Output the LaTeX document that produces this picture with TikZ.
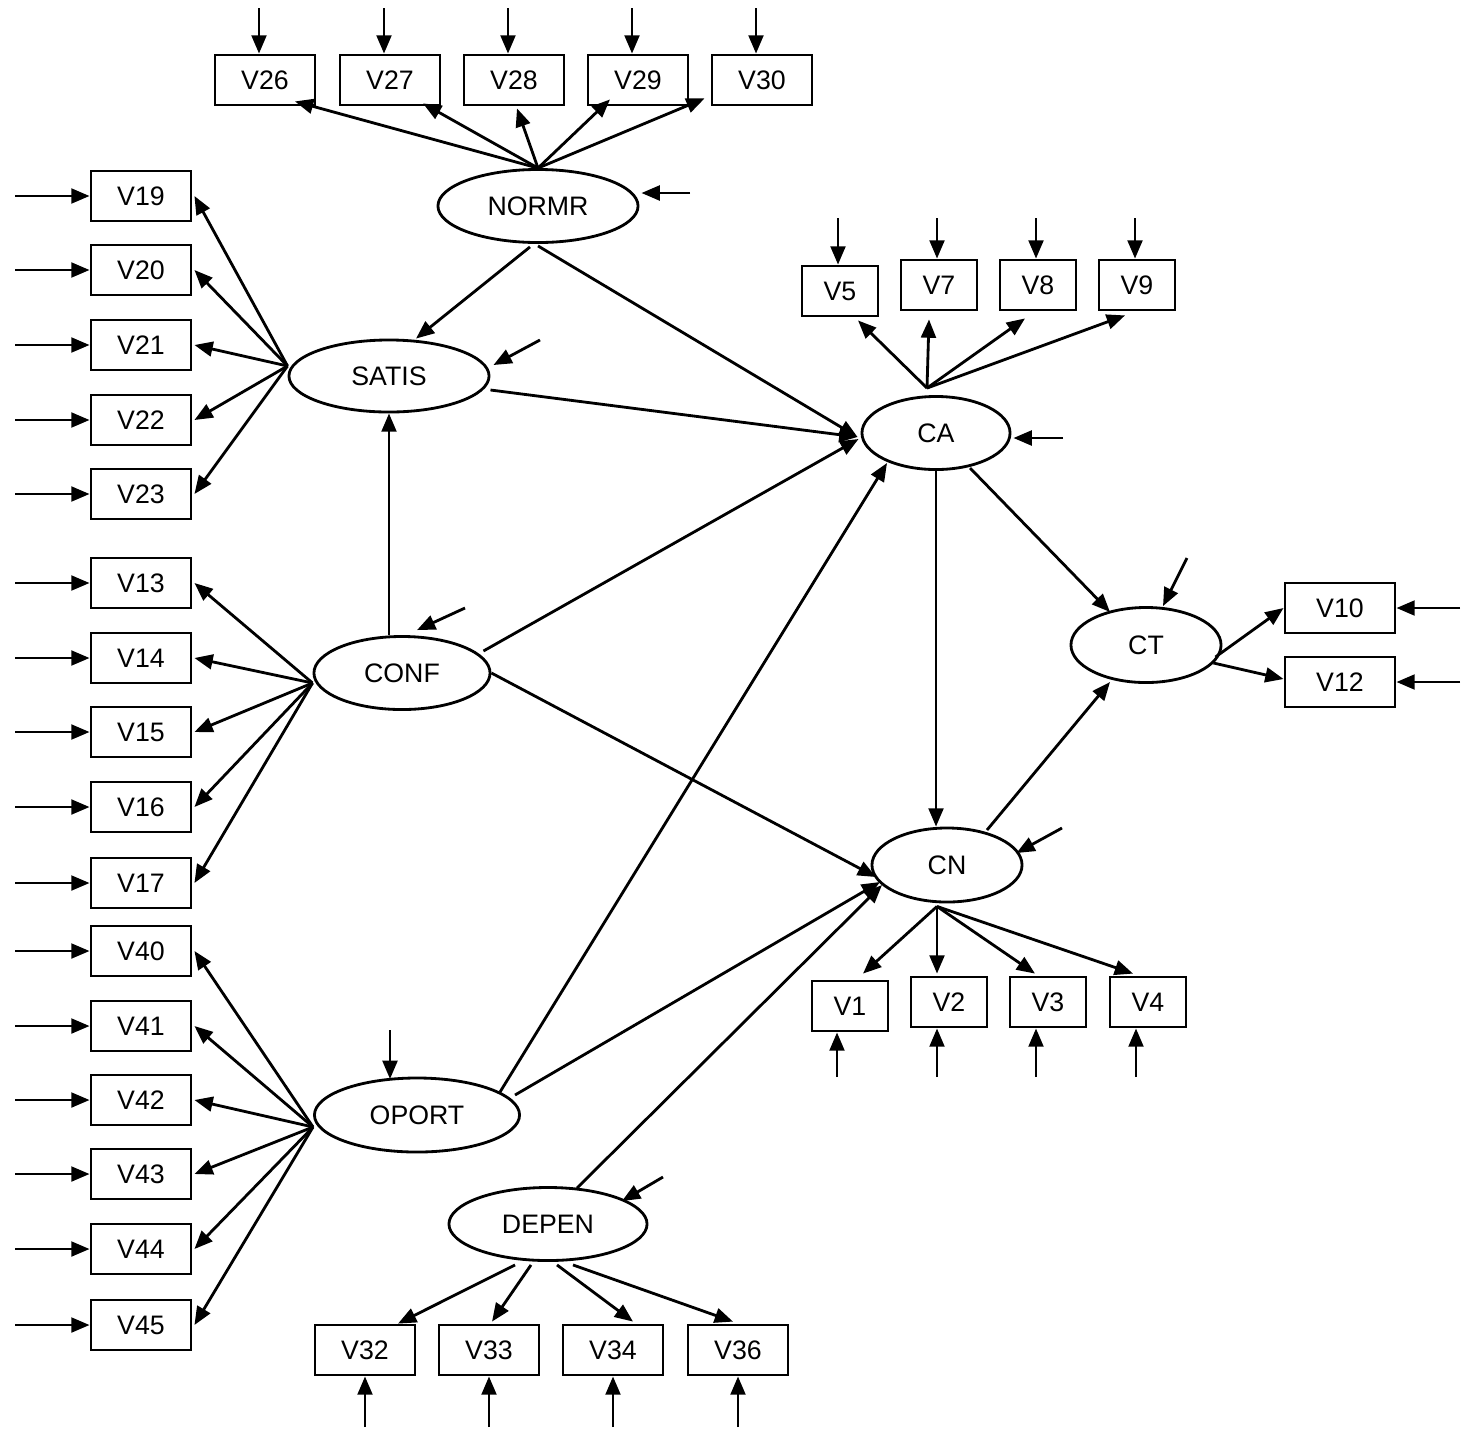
\documentclass[tikz,border=0pt]{standalone}
\usepackage{fontspec}
\setmainfont{Liberation Sans}
\usetikzlibrary{shapes.geometric,arrows.meta,calc}
\begin{document}
\begin{tikzpicture}[x=0.01cm,y=-0.01cm,
  lw/.style={line width=0.8pt},
  obs/.style={draw,lw,inner sep=0pt,minimum width=1cm,minimum height=0.5cm,font=\fontsize{7.6}{9}\selectfont},
  obsn/.style={obs,minimum width=0.76cm},
  obsw/.style={obs,minimum width=1.1cm},
  lat/.style={draw,lw,ellipse,inner sep=0pt,font=\fontsize{7.6}{9}\selectfont},
  arr/.style={lw,-{Triangle[length=5.2pt,width=4.2pt]}},
]
\useasboundingbox (0,0) rectangle (1470,1433);

% latent variables
\node[lat,minimum width=2cm,minimum height=0.73cm] (NORMR) at (538,206) {NORMR};
\node[lat,minimum width=2cm,minimum height=0.72cm] (SATIS) at (389,376) {SATIS};
\node[lat,minimum width=1.76cm,minimum height=0.73cm] (CONF) at (402,673) {CONF};
\node[lat,minimum width=2.05cm,minimum height=0.74cm] (OPORT) at (417,1115) {OPORT};
\node[lat,minimum width=1.98cm,minimum height=0.73cm] (DEPEN) at (548,1224) {DEPEN};
\node[lat,minimum width=1.48cm,minimum height=0.73cm] (CA) at (936,433) {CA};
\node[lat,minimum width=1.5cm,minimum height=0.74cm] (CN) at (947,865) {CN};
\node[lat,minimum width=1.5cm,minimum height=0.75cm] (CT) at (1146,645) {CT};

% top row (NORMR)
\foreach \n/\x in {26/265,27/390,28/514,29/638,30/762} {
  \node[obs] (V\n) at (\x,80) {V\n};
  \coordinate (e\n) at (\x-6,8);
  \draw[arr] (e\n) -- (e\n |- V\n.north);
}
\draw[arr] (NORMR.north) -- ($(V26.south)+(30,-5)$);
\draw[arr] (NORMR.north) -- ($(V27.south)+(33,-3)$);
\draw[arr] (NORMR.north) -- ($(V28.south)+(3,2)$);
\draw[arr] (NORMR.north) -- ($(V29.south)+(-28,-7)$);
\draw[arr] (NORMR.north) -- ($(V30.south west)+(-6,-8)$);

% left column
\foreach \n/\y in {19/196,20/270,21/345,22/420,23/494,13/583,14/658,15/732,16/807,17/883,40/951,41/1026,42/1100,43/1174,44/1249,45/1325} {
  \node[obs] (V\n) at (141,\y) {V\n};
  \coordinate (e\n) at (15,\y);
  \draw[arr] (e\n) -- (V\n.west);
}
\coordinate (oS) at ($(SATIS.west)+(0,-10)$);
\foreach \n in {19,20,21,22,23} \draw[arr] (oS) -- ($(V\n.east)+(2,0)$);
\coordinate (oC) at ($(CONF.west)+(0,10)$);
\foreach \n in {13,14,15,16,17} \draw[arr] (oC) -- ($(V\n.east)+(2,0)$);
\coordinate (oO) at ($(OPORT.west)+(0,12)$);
\foreach \n in {40,41,42,43,44,45} \draw[arr] (oO) -- ($(V\n.east)+(2,0)$);

% CA indicators
\node[obsn] (V5) at (840,291) {V5};
\node[obsn] (V7) at (939,285) {V7};
\node[obsn] (V8) at (1038,285) {V8};
\node[obsn] (V9) at (1137,285) {V9};
\foreach \n/\x in {5/838,7/937,8/1036,9/1135} {
  \coordinate (e\n) at (\x,218);
  \draw[arr] (e\n) -- (e\n |- V\n.north);
}
\coordinate (oA) at ($(CA.north)+(-9,-7)$);
\draw[arr] (oA) -- ($(V5.south)+(18,3)$);
\draw[arr] (oA) -- ($(V7.south)+(-10,8)$);
\draw[arr] (oA) -- ($(V8.south)+(-13,7)$);
\draw[arr] (oA) -- ($(V9.south)+(-12,4)$);

% CN indicators
\node[obsn] (V1) at (850,1006) {V1};
\node[obsn] (V2) at (949,1002) {V2};
\node[obsn] (V3) at (1048,1002) {V3};
\node[obsn] (V4) at (1148,1002) {V4};
\foreach \n/\x in {1/837,2/937,3/1036,4/1136} {
  \coordinate (e\n) at (\x,1077);
  \draw[arr] (e\n) -- (e\n |- V\n.south);
}
\coordinate (oN) at ($(CN.south)+(-10,3)$);
\draw[arr] (oN) -- ($(V1.north)+(13,-6)$);
\draw[arr] (oN) -- ($(V2.north)+(-12,-2)$);
\draw[arr] (oN) -- ($(V3.north)+(-13,-2)$);
\draw[arr] (oN) -- ($(V4.north)+(-15,-2)$);

% CT indicators
\node[obsw] (V10) at (1340,608) {V10};
\node[obsw] (V12) at (1340,682) {V12};
\coordinate (e10) at (1460,608);
\coordinate (e12) at (1460,682);
\draw[arr] (e10) -- (V10.east);
\draw[arr] (e12) -- (V12.east);
\draw[arr] ($(CT.east)+(-7,12)$) -- (V10.west);
\draw[arr] ($(CT.east)+(-9,18)$) -- ($(V12.west)+(0,-3)$);

% DEPEN indicators
\foreach \n/\x in {32/365,33/489,34/613,36/738} {
  \node[obs] (V\n) at (\x,1350) {V\n};
  \coordinate (e\n) at (\x,1427);
  \draw[arr] (e\n) -- (V\n.south);
}
\draw[arr] ($(DEPEN.south)+(-33,3)$) -- ($(V32.north)+(33,0)$);
\draw[arr] ($(DEPEN.south)+(-17,3)$) -- ($(V33.north)+(3,-2)$);
\draw[arr] ($(DEPEN.south)+(9,3)$) -- ($(V34.north)+(20,-2)$);
\draw[arr] ($(DEPEN.south)+(25,3)$) -- ($(V36.north)+(-5,-2)$);

% disturbances
\coordinate (dNO) at (690,193);
\draw[arr] (dNO) -- ($(NORMR.east)+(2,-13)$);
\coordinate (dSA) at (540,340);
\draw[arr] (dSA) -- ($(SATIS.east)+(3,-11)$);
\coordinate (dCO) at (465,608);
\draw[arr] (dCO) -- ($(CONF.north)+(15,-5)$);
\coordinate (dCA) at (1063,438);
\draw[arr] (dCA) -- ($(CA.east)+(2,5)$);
\coordinate (dCT) at (1187,558);
\draw[arr] (dCT) -- ($(CT.north)+(17,0)$);
\coordinate (dCN) at (1062,828);
\draw[arr] (dCN) -- ($(CN.east)+(-7,-12)$);
\coordinate (dOP) at (390,1030);
\draw[arr] (dOP) -- (390,1079);
\coordinate (dDE) at (663,1177);
\draw[arr] (dDE) -- ($(DEPEN.north)+(74,15)$);

% structural paths
\draw[arr] ($(NORMR.south)+(-8,3)$) -- ($(SATIS.north)+(27,0)$);
\draw[arr] ($(NORMR.south)+(0,2)$) -- ($(CA.west)+(-3,4)$);
\draw[arr] ($(SATIS.east)+(0,14)$) -- ($(CA.west)+(-3,4)$);
\draw[arr] ($(CONF.north)+(-13,0)$) -- (SATIS.south);
\draw[arr] ($(CONF.east)+(-8,-22)$) -- ($(CA.west)+(-2,6)$);
\draw[arr] (CONF.east) -- ($(CN.center)+(-71,12)$);
\draw[arr] ($(OPORT.center)+(83,-23)$) -- ($(CA.center)+(-49,30)$);
\draw[arr] ($(OPORT.center)+(98,-20)$) -- ($(CN.center)+(-67,17)$);
\draw[arr] ($(DEPEN.center)+(29,-36)$) -- ($(CN.center)+(-65,20)$);
\draw[arr] (CA.south) -- (CA.south |- CN.north);
\draw[arr] ($(CA.center)+(34,35)$) -- ($(CT.center)+(-36,-33)$);
\draw[arr] ($(CN.center)+(40,-35)$) -- ($(CT.center)+(-36,37)$);
\end{tikzpicture}
\end{document}
